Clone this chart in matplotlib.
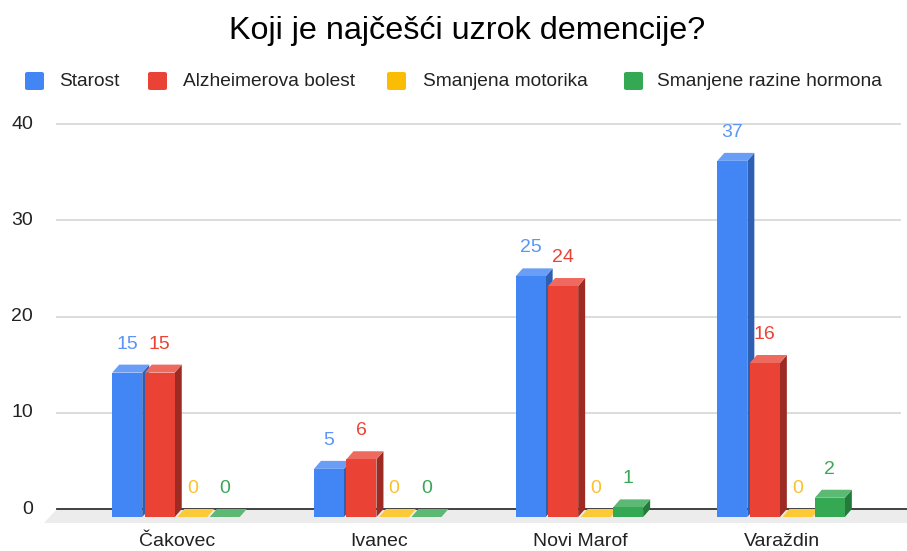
import matplotlib
matplotlib.use("Agg")
import matplotlib.pyplot as plt
from matplotlib.patches import Polygon, Rectangle, FancyBboxPatch

plt.rcParams['font.family'] = ['Liberation Sans', 'DejaVu Sans']

title = "Koji je najčešći uzrok demencije?"
categories = ["Čakovec", "Ivanec", "Novi Marof", "Varaždin"]
series_names = ["Starost", "Alzheimerova bolest", "Smanjena motorika", "Smanjene razine hormona"]
starost = [15, 5, 25, 37]
alzheimer = [15, 6, 24, 16]
motorika = [0, 0, 0, 0]
hormoni = [0, 0, 1, 2]
yticks = [0, 10, 20, 30, 40]

series_values = [starost, alzheimer, motorika, hormoni]

front = ["#4285F4", "#EA4335", "#FBBC04", "#34A853"]
topc = ["#6a9ef6", "#ee6a5f", "#fcc937", "#5cb974"]
sidec = ["#2d5fb3", "#9d2b23", "#b88a04", "#237a3b"]
label_c = ["#5b95f5", "#ea4335", "#fbc02d", "#3aa757"]

W, H = 907, 551
fig = plt.figure(figsize=(W / 100, H / 100), dpi=100)

# axes geometry in pixels
ax_left, ax_right = 57, 905
y0_px, y40_px = 509, 124
px_per_unit_y = (y0_px - y40_px) / 40.0
ymin = -(523.5 - y0_px) / px_per_unit_y
ax = fig.add_axes([ax_left / W, 1 - 523.5 / H, (ax_right - ax_left) / W, (523.5 - y40_px) / H])
px_per_unit_x = 201.7
x0_px = 176
xlim = ((ax_left - x0_px) / px_per_unit_x, (ax_right - x0_px) / px_per_unit_x)
ax.set_xlim(*xlim)
ax.set_ylim(ymin, 40)
ax.axis("off")

dx = 7 / px_per_unit_x
dy = 8 / px_per_unit_y
bw = 30 / px_per_unit_x
stride = 32.5 / px_per_unit_x

# gridlines
for t in yticks[1:]:
    ax.plot([xlim[0], xlim[1] - 5 / px_per_unit_x], [t, t], color="#d9d9d9", lw=1.3, zorder=1, clip_on=False)

# floor
fdx = 13 / px_per_unit_x
fdy = 13.5 / px_per_unit_y
floor = Polygon([(xlim[0], 0), (xlim[1] + 0.1, 0), (xlim[1] + 0.1, -fdy), (xlim[0] - fdx, -fdy)],
                closed=True, facecolor="#ececec", edgecolor="none", zorder=1, clip_on=False)
ax.add_patch(floor)
ax.plot([xlim[0], xlim[1] + 0.1], [0, 0], color="#333333", lw=1.3, zorder=2, clip_on=False)

# tick labels
for t in yticks:
    fig.text(33 / W, 1 - (y0_px - t * px_per_unit_y) / H, str(t), ha="right", va="center",
             fontsize=14, color="#222222")

# bars
for si, vals in enumerate(series_values):
    for ci, v in enumerate(vals):
        x0 = ci + (si - 1.5) * stride - bw / 2
        x1 = x0 + bw
        # side
        ax.add_patch(Polygon([(x1, -dy), (x1 + dx, 0), (x1 + dx, v), (x1, v - dy)], closed=True,
                             facecolor=sidec[si], edgecolor="none", zorder=3, clip_on=False))
        # top
        ax.add_patch(Polygon([(x0, v - dy), (x1, v - dy), (x1 + dx, v), (x0 + dx, v)], closed=True,
                             facecolor=topc[si], edgecolor="none", zorder=3, clip_on=False))
        # front
        if v > 0:
            ax.add_patch(Rectangle((x0, -dy), bw, v, facecolor=front[si], edgecolor="none",
                                   zorder=4, clip_on=False))
        ax.text(x0 + bw / 2, v + 16 / px_per_unit_y, str(v), ha="center", va="baseline",
                fontsize=14, color=label_c[si], zorder=5)

# category labels
cat_y = -(542 - y0_px) / px_per_unit_y
for ci, c in enumerate(categories):
    ax.text(ci + 1 / px_per_unit_x, cat_y, c, ha="center", va="center", fontsize=14,
            color="#222222", clip_on=False)

# title
fig.text(467 / W, 1 - 31 / H, title, ha="center", va="center", fontsize=23.3, color="#000000")

# legend
sq_x = [25, 148, 387, 624]
tx_x = [59, 183, 423, 657]
ly = 81
for i, name in enumerate(series_names):
    fig.patches.append(FancyBboxPatch(((sq_x[i]) / W, 1 - (ly + 9) / H), 19 / W, 18 / H,
                                      boxstyle="round,pad=0,rounding_size=0.003",
                                      transform=fig.transFigure, facecolor=front[i], edgecolor="none"))
    fig.text(tx_x[i] / W, 1 - ly / H, name, ha="left", va="center", fontsize=13.8, color="#222222")

fig.savefig("out.png", dpi=100)
